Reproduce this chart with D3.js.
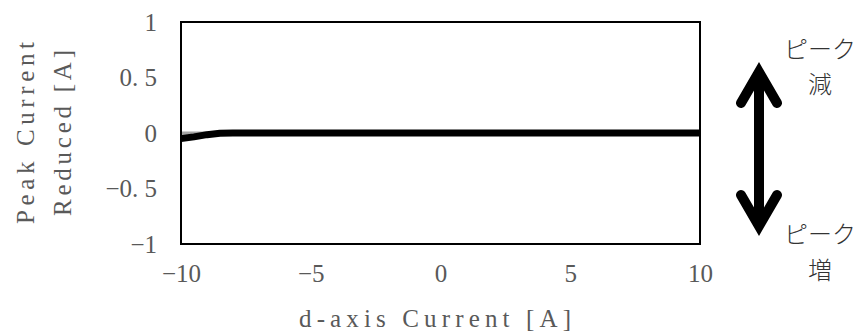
<!DOCTYPE html>
<html>
<head>
<meta charset="utf-8">
<script src="https://cdn.jsdelivr.net/npm/d3@7"></script>
<style>
  html, body { margin: 0; padding: 0; background: #fff; }
  svg { display: block; }
</style>
</head>
<body>
<svg id="chart" width="865" height="332"></svg>
<script>
// d-axis current sweep [A]
const dCurrent = [-10, -9.5, -9, -8.5, -8, -7, -6, -5, -4, -3, -2, -1, 0, 1, 2, 3, 4, 5, 6, 7, 8, 9, 10];
// reduction of peak current [A]
const peakReduced = [-0.05, -0.035, -0.015, -0.002, 0, 0, 0, 0, 0, 0, 0, 0, 0, 0, 0, 0, 0, 0, 0, 0, 0, 0, 0];
// reference (zero) line
const baseline = [0, 0, 0, 0, 0, 0, 0, 0, 0, 0, 0, 0, 0, 0, 0, 0, 0, 0, 0, 0, 0, 0, 0];

const xTicks = [-10, -5, 0, 5, 10];
const yTicks = [-1, -0.5, 0, 0.5, 1];
const yTickLabels = ["\u22121", "\u22120. 5", "0", "0. 5", "1"];
const xTickLabels = ["\u221210", "\u22125", "0", "5", "10"];

const svg = d3.select("#chart");
const plot = { left: 181, right: 700, top: 22, bottom: 244 };

const x = d3.scaleLinear().domain([-10, 10]).range([plot.left, plot.right]);
const y = d3.scaleLinear().domain([-1, 1]).range([plot.bottom, plot.top]);

const textColor = "#595959";
const latinFont = "'Liberation Serif', 'DejaVu Serif', serif";
const cjkFont = "'Noto Sans CJK JP', sans-serif";

// y axis tick labels
const yAxis = d3.axisLeft(y).tickValues(yTicks)
  .tickFormat((d, i) => yTickLabels[i]).tickSize(0).tickPadding(24);
const gy = svg.append("g").attr("transform", `translate(${plot.left},0)`).call(yAxis);
gy.select(".domain").remove();
gy.selectAll("text").attr("fill", textColor)
  .style("font-family", latinFont).style("font-size", "25px");

// x axis tick labels
const xAxis = d3.axisBottom(x).tickValues(xTicks)
  .tickFormat((d, i) => xTickLabels[i]).tickSize(0).tickPadding(20);
const gx = svg.append("g").attr("transform", `translate(0,${plot.bottom})`).call(xAxis);
gx.select(".domain").remove();
gx.selectAll("text").attr("fill", textColor)
  .style("font-family", latinFont).style("font-size", "25px");

// series
const line = d3.line().x((d, i) => x(dCurrent[i])).y(d => y(d));
svg.append("path").datum(baseline).attr("d", line)
  .attr("fill", "none").attr("stroke", "#a5a5a5").attr("stroke-width", 3);
svg.append("path").datum(peakReduced).attr("d", line)
  .attr("fill", "none").attr("stroke", "#000").attr("stroke-width", 7)
  .attr("stroke-linejoin", "round");

// plot frame
svg.append("rect")
  .attr("x", plot.left).attr("y", plot.top)
  .attr("width", plot.right - plot.left).attr("height", plot.bottom - plot.top)
  .attr("fill", "none").attr("stroke", "#000").attr("stroke-width", 2);

// axis titles (spaced out like a fixed-pitch face)
function title(sel, txt, len) {
  return sel.append("text")
    .attr("text-anchor", "middle").attr("dominant-baseline", "central")
    .attr("fill", textColor).style("font-family", latinFont).style("font-size", "25px")
    .attr("textLength", len).attr("lengthAdjust", "spacing")
    .text(txt);
}
title(svg, "d-axis Current [A]", 272).attr("x", 435).attr("y", 318);

const yTitle = svg.append("g").attr("transform", `translate(0,${(plot.top + plot.bottom) / 2}) rotate(-90)`);
title(yTitle, "Peak Current", 182).attr("x", 0).attr("y", 25);
title(yTitle, "Reduced [A]", 166).attr("x", 0).attr("y", 62);

// direction arrow
const ax = 759, aTop = 72, aBot = 226, hw = 18, hh = 31;
svg.append("path")
  .attr("d", `M${ax},${aTop + 4}V${aBot - 4}` +
             `M${ax - hw},${aTop + hh}L${ax},${aTop}L${ax + hw},${aTop + hh}` +
             `M${ax - hw},${aBot - hh}L${ax},${aBot}L${ax + hw},${aBot - hh}`)
  .attr("fill", "none").attr("stroke", "#000").attr("stroke-width", 10)
  .attr("stroke-linecap", "round").attr("stroke-linejoin", "miter");

const notes = [
  { t: "ピーク", y: 47 },
  { t: "減", y: 82 },
  { t: "ピーク", y: 232 },
  { t: "増", y: 268 }
];
svg.selectAll("text.note").data(notes).join("text").attr("class", "note")
  .attr("x", 820).attr("y", d => d.y)
  .attr("text-anchor", "middle").attr("dominant-baseline", "central")
  .attr("fill", "#333").style("font-family", cjkFont).style("font-size", "24px")
  .style("font-weight", 300)
  .text(d => d.t);
</script>
</body>
</html>
